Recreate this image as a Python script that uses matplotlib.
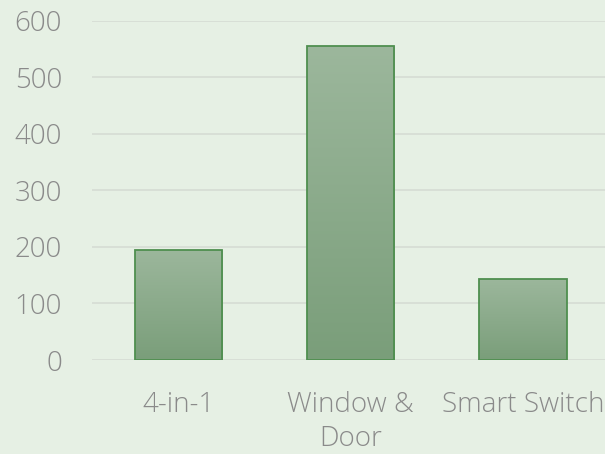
import numpy as np
import matplotlib
matplotlib.use("Agg")
import matplotlib.pyplot as plt
from matplotlib.colors import LinearSegmentedColormap

categories = ["4-in-1", "Window &\nDoor", "Smart Switch"]
values = [195, 555, 144]
yticks = [0, 100, 200, 300, 400, 500, 600]

bg = "#e6f0e4"
fig = plt.figure(figsize=(6.05, 4.54), dpi=100, facecolor=bg)
ax = fig.add_axes([0.152, 0.207, 0.855, 0.747], facecolor=bg)

x = np.arange(len(categories))
bars = ax.bar(x, values, width=0.505, facecolor="none", edgecolor="#4f8f4f",
              linewidth=1.3, zorder=3)

cmap = LinearSegmentedColormap.from_list("g", ["#7a9e7a", "#9cb79c"])
grad = np.linspace(0, 1, 256).reshape(-1, 1)
for b in bars:
    x0, y0 = b.get_x(), b.get_y()
    w, h = b.get_width(), b.get_height()
    im = ax.imshow(grad, cmap=cmap, origin="lower", aspect="auto",
                   extent=[x0, x0 + w, y0, y0 + h], zorder=2)
    im.set_clip_path(b)

ax.set_xlim(-0.5, len(categories) - 0.5)
ax.set_ylim(0, 600)
ax.set_yticks(yticks)
ax.set_xticks(x)
ax.set_xticklabels(categories, linespacing=1.3)
ax.grid(axis="y", color="#d6dcd4", linewidth=1.2, zorder=0)
for s in ax.spines.values():
    s.set_visible(False)
ax.tick_params(axis="both", length=0, labelsize=20, labelcolor="#8a8a8a")
ax.tick_params(axis="y", pad=21.5)
ax.tick_params(axis="x", pad=22)
for lbl in ax.get_xticklabels() + ax.get_yticklabels():
    lbl.set_fontfamily("Open Sans")
    lbl.set_fontweight("light")

fig.savefig("out.png", dpi=100, facecolor=bg)
